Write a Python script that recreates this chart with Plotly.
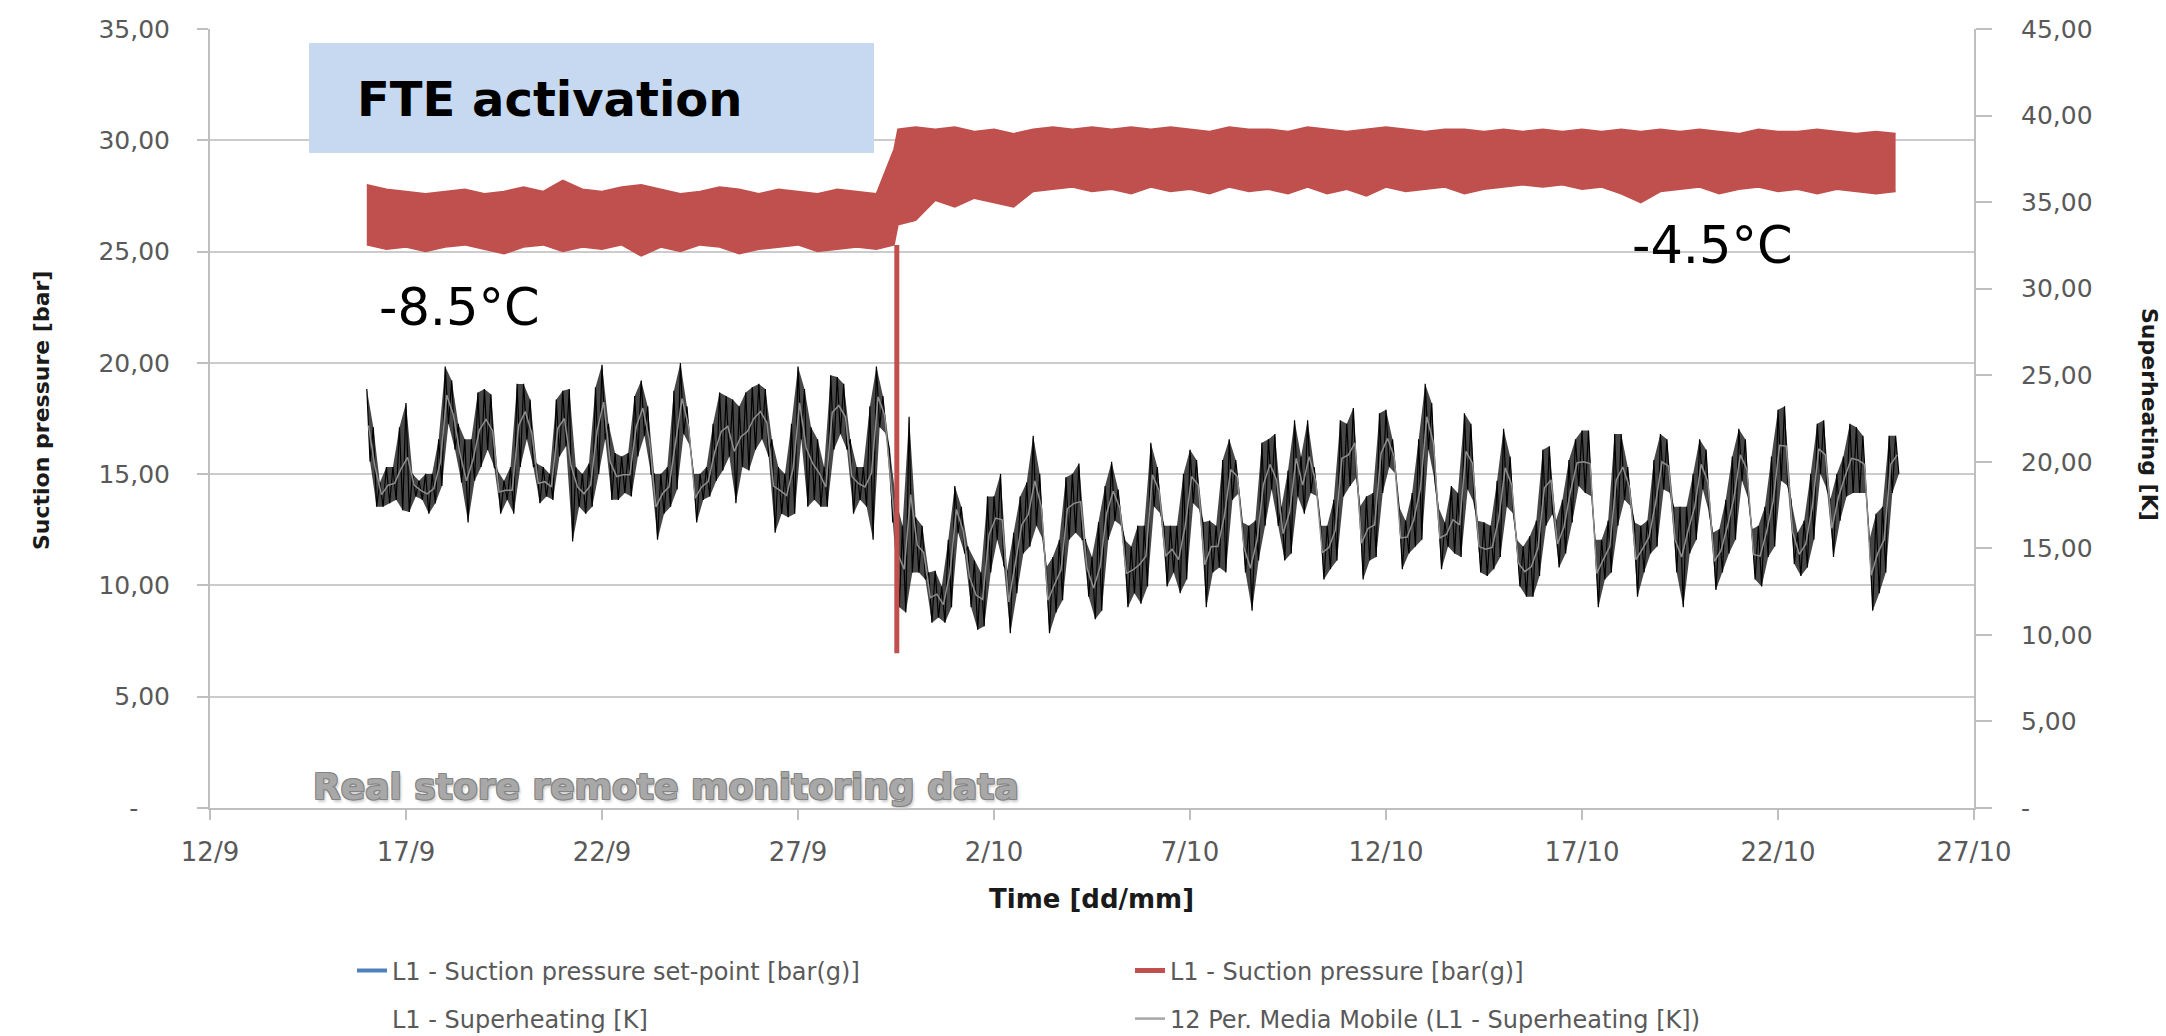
import pandas as pd
import plotly.graph_objects as go

# ---------------- axes / ticks ----------------
x_tickvals = ["2014-09-12", "2014-09-17", "2014-09-22", "2014-09-27", "2014-10-02",
              "2014-10-07", "2014-10-12", "2014-10-17", "2014-10-22", "2014-10-27"]
x_ticktext = ["12/9", "17/9", "22/9", "27/9", "2/10", "7/10", "12/10", "17/10", "22/10", "27/10"]
x_range = ["2014-09-12", "2014-10-27"]

p_tickvals = [0, 5, 10, 15, 20, 25, 30, 35]
p_ticktext = ["-" + "\u00a0" * 4, "5,00", "10,00", "15,00", "20,00", "25,00", "30,00", "35,00"]
k_tickvals = [0, 5, 10, 15, 20, 25, 30, 35, 40, 45]
k_ticktext = ["-", "5,00", "10,00", "15,00", "20,00", "25,00", "30,00", "35,00", "40,00", "45,00"]

# ---------------- superheating [K] (4-hour steps, high / low of the noisy trace) -------------
sh_start = "2014-09-16 00:00"
sh_hi = [
    24.2, 22.0, 18.8, 19.7, 19.7, 22.0,   # 16/9
    23.4, 19.3, 18.9, 19.3, 19.3, 21.3,   # 17/9
    25.5, 24.7, 22.2, 21.3, 21.3, 24.0,   # 18/9
    24.2, 23.9, 19.5, 18.9, 19.7, 24.5,   # 19/9
    24.5, 23.6, 19.9, 19.7, 19.3, 23.6,   # 20/9
    24.1, 24.2, 19.7, 19.3, 19.9, 24.3,   # 21/9
    25.6, 22.2, 20.5, 20.3, 20.5, 23.8,   # 22/9
    24.7, 23.2, 19.3, 19.3, 19.7, 24.1,   # 23/9
    25.7, 23.2, 19.3, 19.3, 19.7, 22.2,   # 24/9
    24.0, 23.8, 23.6, 23.2, 24.0, 24.3,   # 25/9
    24.5, 24.2, 21.3, 19.7, 19.3, 22.2,   # 26/9
    25.5, 24.2, 22.0, 21.3, 19.7, 25.0,   # 27/9
    24.9, 24.5, 21.3, 19.7, 19.7, 23.2,   # 28/9
    25.5, 23.8, 20.7, 17.8, 16.3, 22.6,   # 29/9
    16.8, 16.3, 13.6, 13.7, 12.8, 15.5,   # 30/9
    18.6, 17.4, 15.1, 14.3, 13.6, 18.0,   # 1/10
    18.0, 19.3, 13.7, 15.9, 18.0, 18.8,   # 2/10
    21.5, 19.3, 13.9, 14.5, 15.5, 19.1,   # 3/10
    19.3, 19.9, 15.5, 14.5, 16.5, 18.6,   # 4/10
    20.0, 18.4, 15.5, 15.1, 16.3, 16.3,   # 5/10
    21.1, 19.7, 16.3, 16.3, 16.3, 19.3,   # 6/10
    20.7, 20.1, 16.5, 16.6, 16.3, 20.1,   # 7/10
    21.3, 20.1, 16.5, 16.3, 16.6, 21.1,   # 8/10
    21.3, 21.6, 17.4, 19.5, 22.4, 20.3,   # 9/10
    22.4, 19.7, 16.3, 16.3, 17.8, 22.4,   # 10/10
    22.2, 23.1, 17.4, 18.0, 18.2, 22.8,   # 11/10
    23.0, 21.3, 17.4, 16.6, 18.2, 21.3,   # 12/10
    24.5, 23.4, 17.4, 16.5, 18.6, 18.2,   # 13/10
    22.8, 22.2, 16.6, 16.5, 16.3, 18.9,   # 14/10
    21.9, 20.3, 15.5, 15.1, 15.7, 16.6,   # 15/10
    20.7, 20.9, 16.6, 17.8, 20.1, 21.3,   # 16/10
    21.8, 21.8, 15.5, 15.5, 16.6, 21.6,   # 17/10
    21.6, 19.7, 16.5, 16.3, 16.6, 20.1,   # 18/10
    21.6, 21.3, 17.4, 17.4, 17.4, 19.3,   # 19/10
    21.3, 20.7, 15.9, 16.1, 17.8, 20.3,   # 20/10
    21.9, 21.3, 16.1, 16.3, 17.4, 20.3,   # 21/10
    23.0, 23.2, 17.8, 15.9, 16.6, 19.3,   # 22/10
    22.2, 22.4, 17.8, 19.3, 20.3, 22.2,   # 23/10
    22.0, 21.5, 15.5, 17.0, 17.4, 21.5,   # 24/10
    21.5,                                 # 25/10
]
sh_lo = [
    20.0, 17.4, 17.4, 17.6, 17.8, 17.2,
    17.1, 18.0, 17.8, 17.0, 17.6, 18.6,
    22.2, 20.7, 18.8, 16.5, 18.9, 19.7,
    20.7, 19.7, 17.0, 17.8, 17.0, 19.7,
    21.3, 19.7, 17.6, 18.0, 17.8, 20.3,
    20.9, 15.4, 17.4, 17.0, 17.4, 19.3,
    21.3, 17.8, 17.8, 18.2, 18.0, 20.3,
    21.5, 19.3, 15.5, 17.0, 17.4, 18.4,
    21.6, 20.9, 16.5, 17.8, 18.0, 18.9,
    19.5, 20.3, 17.6, 19.7, 19.5, 20.7,
    21.3, 20.3, 15.9, 17.0, 16.8, 17.0,
    21.3, 17.4, 17.8, 17.4, 17.4, 20.7,
    21.6, 20.7, 17.0, 17.8, 17.4, 15.5,
    22.0, 21.6, 16.5, 11.6, 11.3, 13.6,
    13.6, 13.2, 10.7, 11.0, 10.7, 11.6,
    15.9, 14.7, 11.6, 10.3, 10.5, 13.6,
    15.5, 14.0, 10.1, 12.4, 14.7, 15.1,
    16.3, 15.5, 10.1, 11.3, 12.0, 15.5,
    15.9, 15.5, 12.2, 10.9, 11.4, 15.5,
    16.6, 16.3, 11.6, 12.4, 11.8, 12.8,
    17.4, 17.0, 12.8, 13.6, 12.4, 13.2,
    17.6, 17.2, 11.6, 13.6, 13.9, 13.6,
    17.8, 18.2, 13.6, 11.4, 14.3, 16.3,
    18.4, 16.3, 14.3, 14.7, 18.0, 17.0,
    18.2, 18.0, 13.2, 13.8, 14.3, 18.0,
    18.6, 19.1, 13.2, 14.3, 14.5, 18.2,
    19.7, 19.3, 13.8, 14.7, 15.1, 15.5,
    20.7, 18.8, 13.8, 15.1, 14.7, 14.5,
    18.4, 17.6, 13.6, 13.4, 13.8, 14.5,
    17.4, 17.0, 12.8, 12.2, 12.2, 13.4,
    16.3, 17.0, 13.9, 14.7, 16.5, 18.6,
    18.2, 18.0, 11.6, 13.2, 13.6, 16.3,
    17.8, 17.4, 12.2, 13.6, 14.7, 15.1,
    18.4, 18.2, 13.6, 11.6, 14.7, 15.5,
    18.4, 17.0, 12.6, 13.6, 14.7, 15.5,
    18.9, 17.8, 13.2, 12.8, 14.5, 15.1,
    18.9, 18.6, 14.1, 13.4, 13.9, 15.5,
    19.3, 18.4, 14.5, 16.6, 18.0, 18.2,
    18.2, 18.2, 11.4, 12.4, 13.6, 18.2,
    19.3,
]

# ---------------- suction pressure [bar(g)] envelope (12-hour steps) ----------------
red_pre_start = "2014-09-16 00:00"
red_pre_hi = [28.0, 27.8, 27.7, 27.6, 27.7, 27.8, 27.6, 27.7, 27.9, 27.7,
              28.2, 27.8, 27.7, 27.9, 28.0, 27.8, 27.6, 27.7, 27.9, 27.8,
              27.6, 27.8, 27.7, 27.6, 27.8, 27.7, 27.6]
red_pre_lo = [25.3, 25.1, 25.2, 25.0, 25.2, 25.3, 25.1, 24.9, 25.2, 25.3,
              25.0, 25.2, 25.1, 25.3, 24.8, 25.2, 25.0, 25.3, 25.2, 24.9,
              25.1, 25.2, 25.3, 25.0, 25.1, 25.2, 25.1]
red_step_times = ["2014-09-29 10:48", "2014-09-29 13:12"]
red_step_hi = [29.6, 30.5]
red_step_lo = [25.3, 26.2]
red_post_start = "2014-09-30 00:00"
red_post_hi = [30.6, 30.5, 30.6, 30.4, 30.5, 30.3,
               30.5, 30.6, 30.5, 30.6, 30.5, 30.6, 30.5, 30.6, 30.5, 30.4,
               30.6, 30.5, 30.5, 30.4, 30.6, 30.5, 30.4, 30.5, 30.6, 30.5,
               30.4, 30.5, 30.5, 30.4, 30.5, 30.4, 30.5, 30.4, 30.5, 30.4,
               30.5, 30.4, 30.5, 30.4, 30.5, 30.4, 30.3, 30.5, 30.4, 30.4,
               30.5, 30.4, 30.3, 30.4, 30.3]
red_post_lo = [26.4, 27.3, 27.0, 27.4, 27.2, 27.0,
               27.7, 27.8, 27.9, 27.7, 27.8, 27.6, 27.9, 27.7, 27.8, 27.6,
               27.9, 27.7, 27.8, 27.6, 27.9, 27.6, 27.8, 27.5, 27.9, 27.7,
               27.8, 27.9, 27.6, 27.8, 27.9, 28.0, 27.9, 28.0, 27.8, 27.9,
               27.6, 27.2, 27.7, 27.8, 27.9, 27.6, 27.8, 27.9, 27.7, 27.8,
               27.6, 27.8, 27.7, 27.6, 27.7]
fte_time = "2014-09-29 12:30"
fte_spike = [25.3, 6.95]

# ---------------- build series ----------------
sh_t = pd.date_range(sh_start, periods=len(sh_hi), freq="4h")
sh_t_lo = [t + pd.Timedelta(hours=2) for t in sh_t]
zz_x, zz_y = [], []
for t, tl, h, l in zip(sh_t, sh_t_lo, sh_hi, sh_lo):
    zz_x += [t, tl]
    zz_y += [h, l]
ma_x = [t + pd.Timedelta(hours=1) for t in sh_t]
ma_y = [(h + l) / 2 for h, l in zip(sh_hi, sh_lo)]

red_t = (list(pd.date_range(red_pre_start, periods=len(red_pre_hi), freq="12h"))
         + list(pd.to_datetime(red_step_times))
         + list(pd.date_range(red_post_start, periods=len(red_post_hi), freq="12h")))
red_hi = red_pre_hi + red_step_hi + red_post_hi
red_lo = red_pre_lo + red_step_lo + red_post_lo

RED = "#C0504D"
BLUE = "#4F81BD"
GREY_MA = "#8E8E8E"
FONT = "DejaVu Sans"
TICKC = "#595959"
AXC = "#BFBFBF"

fig = go.Figure()
# superheating on primary (right) axis: band body, noisy trace, moving average
fig.add_trace(go.Scatter(x=list(sh_t), y=sh_hi, mode="lines", line=dict(width=0),
                         yaxis="y", showlegend=False, hoverinfo="skip"))
fig.add_trace(go.Scatter(x=sh_t_lo, y=sh_lo, mode="lines", line=dict(width=0),
                         fill="tonexty", fillcolor="rgba(10,10,10,0.75)",
                         yaxis="y", showlegend=False, hoverinfo="skip"))
fig.add_trace(go.Scatter(x=zz_x, y=zz_y, mode="lines", line=dict(color="black", width=1.2),
                         yaxis="y", showlegend=False, hoverinfo="skip"))
fig.add_trace(go.Scatter(x=ma_x, y=ma_y, mode="lines", line=dict(color=GREY_MA, width=1.5),
                         yaxis="y", showlegend=False, hoverinfo="skip"))
# suction pressure on overlay (left) axis
fig.add_trace(go.Scatter(x=red_t, y=red_hi, mode="lines", line=dict(color=RED, width=1.5),
                         yaxis="y2", showlegend=False, hoverinfo="skip"))
fig.add_trace(go.Scatter(x=red_t, y=red_lo, mode="lines", line=dict(color=RED, width=1.5),
                         fill="tonexty", fillcolor=RED, yaxis="y2", showlegend=False,
                         hoverinfo="skip"))
fig.add_trace(go.Scatter(x=[fte_time, fte_time], y=fte_spike, mode="lines",
                         line=dict(color=RED, width=5), yaxis="y2", showlegend=False,
                         hoverinfo="skip"))

# legend-only entries
leg_items = [
    ("L1 - Suction pressure set-point [bar(g)]", BLUE, 4, "legend"),
    ("L1 - Suction pressure [bar(g)]", RED, 5, "legend2"),
    ("L1 - Superheating [K]", "rgba(0,0,0,0)", 1, "legend3"),
    ("12 Per. Media Mobile (L1 - Superheating [K])", "#A6A6A6", 2.5, "legend4"),
]
for name, col, w, lg in leg_items:
    fig.add_trace(go.Scatter(x=[None], y=[None], mode="lines", name=name,
                             line=dict(color=col, width=w), legend=lg, yaxis="y2"))

L, R, T, B = 210, 1974, 29, 808
PW, PH = R - L, B - T


def px(xp):
    return (xp - L) / PW


def py(yp):
    return (B - yp) / PH


leg_common = dict(orientation="h", xanchor="left", yanchor="middle",
                  font=dict(family=FONT, size=24, color=TICKC), bgcolor="rgba(0,0,0,0)",
                  itemwidth=30)

fig.update_layout(
    width=2166, height=1036, autosize=False,
    margin=dict(l=L, r=2166 - R, t=T, b=1036 - B, autoexpand=False),
    paper_bgcolor="white", plot_bgcolor="white",
    font=dict(family=FONT, color=TICKC),
    xaxis=dict(type="date", range=x_range, tickvals=x_tickvals, ticktext=x_ticktext,
               showgrid=False, zeroline=False, showline=True, linecolor=AXC, linewidth=2,
               ticks="outside", ticklen=10, tickcolor=AXC, tickwidth=2,
               tickfont=dict(family=FONT, size=26, color=TICKC), ticklabelstandoff=10),
    yaxis=dict(range=[0, 45], tickvals=k_tickvals, ticktext=k_ticktext, side="right",
               showgrid=False, zeroline=False, showline=True, linecolor=AXC, linewidth=2,
               ticks="outside", ticklen=16, tickcolor=AXC, tickwidth=2,
               tickfont=dict(family=FONT, size=25, color=TICKC), ticklabelstandoff=24),
    yaxis2=dict(range=[0, 35], tickvals=p_tickvals, ticktext=p_ticktext, side="left",
                overlaying="y", showgrid=True, gridcolor="#CCCCCC", gridwidth=2,
                zeroline=False, showline=True, linecolor=AXC, linewidth=2,
                ticks="outside", ticklen=11, tickcolor=AXC, tickwidth=2,
                tickfont=dict(family=FONT, size=25, color=TICKC), ticklabelstandoff=22),
    legend=dict(x=px(352), y=py(971), **leg_common),
    legend2=dict(x=px(1130), y=py(971), **leg_common),
    legend3=dict(x=px(352), y=py(1019), **leg_common),
    legend4=dict(x=px(1130), y=py(1019), **leg_common),
    shapes=[dict(type="rect", xref="paper", yref="paper", x0=px(309), x1=px(874),
                 y0=py(153), y1=py(43), fillcolor="#C6D9F0", line=dict(width=0),
                 layer="above")],
)

ann = [
    dict(text="<b>FTE activation</b>", x=px(355), y=py(99), xanchor="left", yanchor="middle",
         font=dict(family=FONT, size=48, color="black")),
    dict(text="-8.5°C", x=px(377), y=py(307), xanchor="left", yanchor="middle",
         font=dict(family=FONT, size=51, color="black")),
    dict(text="-4.5°C", x=px(1630), y=py(245), xanchor="left", yanchor="middle",
         font=dict(family=FONT, size=51, color="black")),
    dict(text="<b>Real store remote monitoring data</b>", x=px(311), y=py(786),
         xanchor="left", yanchor="middle",
         font=dict(family=FONT, size=36, color="#A8A8A8",
                   shadow="1px 1px 0 #858585, -1px -1px 0 #858585, 1px -1px 0 #858585, "
                          "-1px 1px 0 #858585, 2px 3px 3px #C8C8C8")),
    dict(text="<b>Time [dd/mm]</b>", x=px(1091), y=py(899), xanchor="center",
         yanchor="middle", font=dict(family=FONT, size=26, color="#1A1A1A")),
    dict(text="<b>Suction pressure [bar]</b>", x=px(41), y=py(411), xanchor="center",
         yanchor="middle", textangle=-90, font=dict(family=FONT, size=22, color="#1A1A1A")),
    dict(text="<b>Superheating [K]</b>", x=px(2150), y=py(414), xanchor="center",
         yanchor="middle", textangle=90, font=dict(family=FONT, size=22, color="#1A1A1A")),
]
for a in ann:
    a.update(xref="paper", yref="paper", showarrow=False)
fig.update_layout(annotations=ann)

fig.write_html("out.html", config={"displayModeBar": False},
               post_script="document.body.style.margin='0';")
